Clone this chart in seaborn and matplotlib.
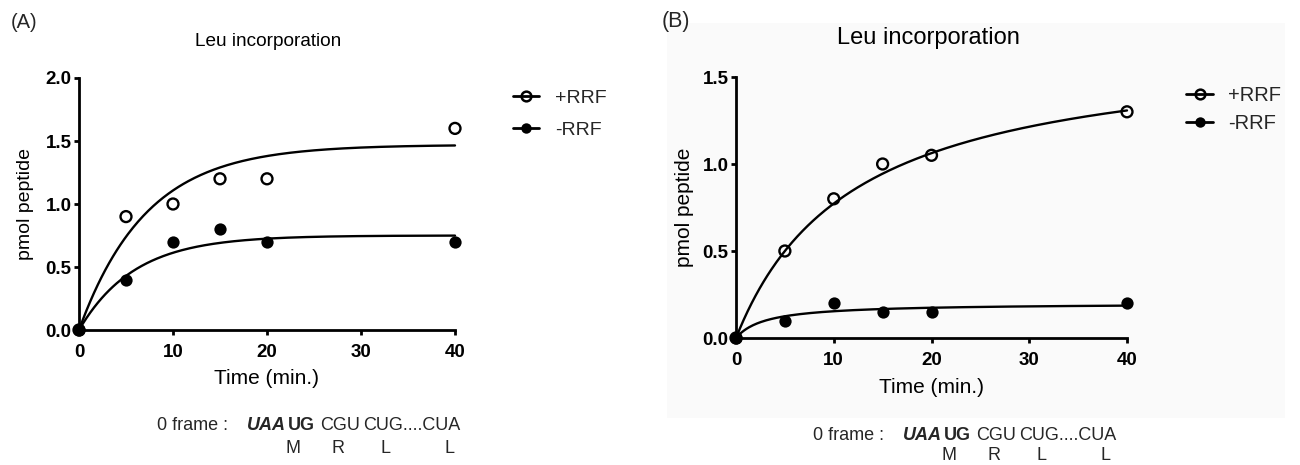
import numpy as np
import pandas as pd
import matplotlib
matplotlib.use("Agg")
import matplotlib.pyplot as plt
from matplotlib.lines import Line2D
from matplotlib.patches import Rectangle
import seaborn as sns

# ---------------- data ----------------
time_min = [0, 5, 10, 15, 20, 40]
a_plus_rrf = [0.0, 0.9, 1.0, 1.2, 1.2, 1.6]
a_minus_rrf = [0.0, 0.4, 0.7, 0.8, 0.7, 0.7]
b_plus_rrf = [0.0, 0.5, 0.8, 1.0, 1.05, 1.3]
b_minus_rrf = [0.0, 0.1, 0.2, 0.15, 0.15, 0.2]

# fitted-curve parameters
a_fit_plus = (1.47, 0.14)    # one-phase association: Ymax, k
a_fit_minus = (0.75, 0.17)
b_fit_plus = (1.70, 12.0)    # hyperbola: Bmax, K
b_fit_minus = (0.20, 3.0)

x_ticks = [0, 10, 20, 30, 40]
a_y_ticks = [0.0, 0.5, 1.0, 1.5, 2.0]
b_y_ticks = [0.0, 0.5, 1.0, 1.5]
series_labels = ["+RRF", "-RRF"]
title_text = "Leu incorporation"
x_label = "Time (min.)"
y_label = "pmol peptide"
seq_words = ["0 frame :", "UAA", "UG", "CGU", "CUG....CUA"]
seq_aa = ["M", "R", "L", "L"]

# ---------------- style ----------------
sns.set_theme(style="ticks")
plt.rcParams["font.family"] = ["Liberation Sans", "DejaVu Sans"]
plt.rcParams["axes.edgecolor"] = "black"

W, H = 1300, 465
fig = plt.figure(figsize=(W / 100, H / 100), dpi=100)
fig.patch.set_facecolor("white")


def fx(x):
    return x / W


def fy(y):
    return 1 - y / H


# very light panel background behind (B)
fig.patches.append(Rectangle((fx(667), fy(418)), (1285 - 667) / W, (418 - 23) / H,
                             transform=fig.transFigure, facecolor="#fafafa",
                             edgecolor="none", zorder=-10))

axA = fig.add_axes([fx(79), fy(330), (455 - 79) / W, (330 - 78) / H])
axB = fig.add_axes([fx(736), fy(338), (1127 - 736) / W, (338 - 77) / H])


def one_phase(x, p):
    return p[0] * (1 - np.exp(-p[1] * x))


def hyperbola(x, p):
    return p[0] * x / (p[1] + x)


def draw_panel(ax, plus, minus, fplus, fminus, model, yticks, ymax):
    ax.set_facecolor("none")
    xf = np.linspace(0, 40, 300)
    curves = pd.DataFrame({"t": np.concatenate([xf, xf]),
                           "y": np.concatenate([model(xf, fplus), model(xf, fminus)]),
                           "s": [series_labels[0]] * len(xf) + [series_labels[1]] * len(xf)})
    sns.lineplot(data=curves, x="t", y="y", units="s", estimator=None, color="black",
                 linewidth=1.7, ax=ax, legend=False, zorder=3, clip_on=False)
    sns.scatterplot(x=time_min, y=plus, ax=ax, marker="o", s=62, color="black",
                    linewidth=1.7, edgecolor="black", zorder=5, clip_on=False, legend=False)
    ax.collections[-1].set_facecolor("none")
    sns.scatterplot(x=time_min, y=minus, ax=ax, marker="o", s=78, color="black",
                    linewidth=0, zorder=6, clip_on=False, legend=False)
    ax.set_xlim(0, 40)
    ax.set_ylim(0, ymax)
    ax.set_xticks(x_ticks)
    ax.set_xticklabels([str(t) for t in x_ticks])
    ax.set_yticks(yticks)
    ax.set_yticklabels([f"{t:.1f}" for t in yticks])
    for s in ["top", "right"]:
        ax.spines[s].set_visible(False)
    for s in ["left", "bottom"]:
        ax.spines[s].set_linewidth(2.0)
        ax.spines[s].set_color("black")
    ax.tick_params(axis="both", direction="out", length=3.8, width=2.0, color="black",
                   labelsize=13.5, labelcolor="black")
    ax.tick_params(axis="x", pad=6)
    ax.tick_params(axis="y", pad=1.5)
    for lbl in ax.get_xticklabels() + ax.get_yticklabels():
        lbl.set_fontweight("bold")
    ax.grid(False)


draw_panel(axA, a_plus_rrf, a_minus_rrf, a_fit_plus, a_fit_minus, one_phase, a_y_ticks, 2.0)
draw_panel(axB, b_plus_rrf, b_minus_rrf, b_fit_plus, b_fit_minus, hyperbola, b_y_ticks, 1.5)

# axis labels
axA.set_xlabel(x_label, fontsize=15, color="black", va="center")
axA.xaxis.set_label_coords(0.5, -(378 - 330) / 252)
axA.set_ylabel(y_label, fontsize=14, color="black", va="center")
axA.yaxis.set_label_coords(-(79 - 26) / 376, 0.5)
axB.set_xlabel(x_label, fontsize=15, color="black", va="center")
axB.xaxis.set_label_coords(0.5, -(387 - 338) / 261)
axB.set_ylabel(y_label, fontsize=15, color="black", va="center")
axB.yaxis.set_label_coords(-(736 - 685) / 391, 0.5)

# titles
axA.set_title(title_text, x=(268 - 79) / 376, y=(330 - 42) / 252, va="center",
              fontsize=13.7, pad=0, color="black")
axB.set_title(title_text, x=(928 - 736) / 391, y=(338 - 38) / 261, va="center",
              fontsize=17, pad=0, color="black")

# panel letters
fig.text(fx(11), fy(22), "(A)", fontsize=14.5, va="center", ha="left")
fig.text(fx(662), fy(22), "(B)", fontsize=15.5, va="center", ha="left")


# legends
def legend_handles(ms):
    h1 = Line2D([0], [0], color="black", lw=2, marker="o", markersize=ms,
                markerfacecolor="none", markeredgecolor="black", markeredgewidth=1.8)
    h2 = Line2D([0], [0], color="black", lw=2, marker="o", markersize=ms + 0.5,
                markerfacecolor="black", markeredgecolor="black", markeredgewidth=0)
    return [h1, h2]


fig.legend(legend_handles(7), series_labels, loc="center left",
           bbox_to_anchor=(fx(513), fy(114)), frameon=False, fontsize=14,
           handlelength=1.35, handletextpad=0.8, labelspacing=0.72,
           borderpad=0, borderaxespad=0, numpoints=1)
fig.legend(legend_handles(7), series_labels, loc="center left",
           bbox_to_anchor=(fx(1186), fy(109.5)), frameon=False, fontsize=14.5,
           handlelength=1.35, handletextpad=0.75, labelspacing=0.45,
           borderpad=0, borderaxespad=0, numpoints=1)


# sequence annotation
def seq_text(x0, y0, y1):
    offs = [0, 90, 131, 163, 206]
    styles = [dict(), dict(fontweight="bold", fontstyle="italic"), dict(fontweight="bold"),
              dict(), dict()]
    for w, o, st in zip(seq_words, offs, styles):
        fig.text(fx(x0 + o), fy(y0), w, fontsize=13, ha="left", va="center", **st)
    aa_offs = [136, 181, 228, 292]
    for a, o in zip(seq_aa, aa_offs):
        fig.text(fx(x0 + o), fy(y1), a, fontsize=13, ha="center", va="center")


seq_text(157, 425, 448)
seq_text(813, 435, 455)

fig.savefig("out.png", dpi=100, facecolor="white")
